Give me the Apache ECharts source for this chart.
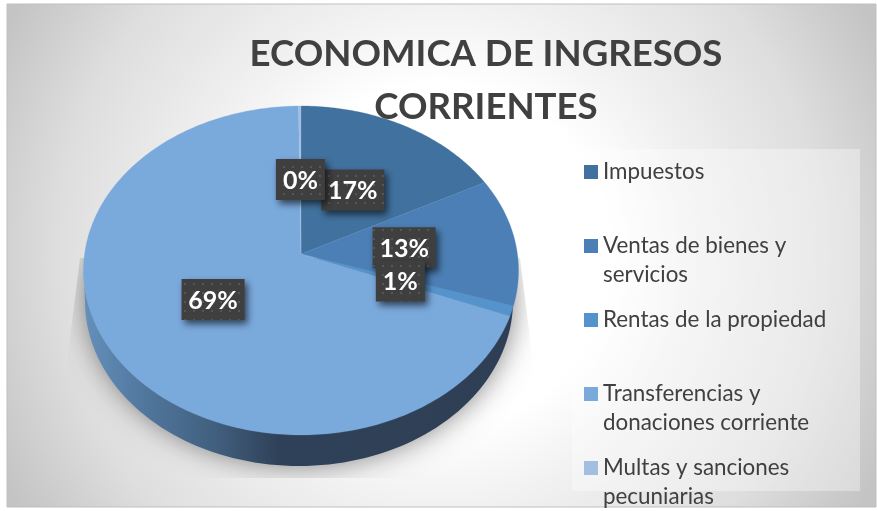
<!DOCTYPE html>
<html>
<head>
<meta charset="utf-8">
<style>
  html, body { margin: 0; padding: 0; background: #fff; }
  #chart { width: 877px; height: 511px; }
</style>
<script src="https://cdn.jsdelivr.net/npm/echarts@6/dist/echarts.min.js"></script>
</head>
<body>
<div id="chart"></div>
<script>
const titleText = 'ECONOMICA DE INGRESOS\nCORRIENTES';
const categories = [
  'Impuestos',
  'Ventas de bienes y\nservicios',
  'Rentas de la propiedad',
  'Transferencias y\ndonaciones corriente',
  'Multas y sanciones\npecuniarias'
];
const values = [17.4, 12.6, 1.0, 68.8, 0.2];
const colors = ['#41719e', '#4c7fb5', '#5593cc', '#7aa9dc', '#a2bfe2'];

const font = 'Lato, sans-serif';
const total = values.reduce((a, b) => a + b, 0);
const starts = values.map((_, i) => values.slice(0, i).reduce((a, b) => a + b, 0));

// projected disc: the centre of the circle sits above the centre of the ellipse
const disc = { cx: 301, cy: 254, rx: 216.4, ry: 162.8, k: 0.1003 };

function project(share, r) {
  const a = share / total * Math.PI * 2;
  const X = Math.sin(a) * r;
  const Y = Math.cos(a) * r;
  const w = 1 + disc.k * Y;
  return [disc.cx + disc.rx * X / w, disc.cy - disc.ry * Y / w];
}

function slicePoints(start, size) {
  const pts = [project(0, 0)];
  const n = Math.max(2, Math.ceil(size / total * 360));
  for (let i = 0; i <= n; i++) pts.push(project(start + size * i / n, 1));
  return pts;
}

function ellipsePoints(cx, cy, rx, ry, from, to) {
  const pts = [];
  for (let d = from; d <= to; d += 2) {
    const a = d * Math.PI / 180;
    pts.push([cx + rx * Math.cos(a), cy + ry * Math.sin(a)]);
  }
  return pts;
}

// dotted texture of the data label boxes
const tile = document.createElement('canvas');
tile.width = tile.height = 9;
const tileCtx = tile.getContext('2d');
tileCtx.fillStyle = '#3f3f3f';
tileCtx.fillRect(0, 0, 9, 9);
tileCtx.fillStyle = '#565656';
tileCtx.fillRect(4, 4, 2, 2);

function renderFloor() {
  return {
    type: 'polygon',
    clipPath: {
      type: 'polygon',
      shape: { points: [[80, 258], [520, 258], [532, 354], [532, 478], [68, 478], [68, 354]] }
    },
    // opaque but hidden under the pie, only its blur shows around the wall
    shape: { points: ellipsePoints(300, 299, 212, 164, 0, 360) },
    style: { fill: '#888', shadowBlur: 30, shadowColor: 'rgba(0,0,0,0.55)' }
  };
}

function renderWall() {
  const lower = ellipsePoints(299, 301, 214, 165, 0, 180);
  const upper = ellipsePoints(300.5, 270, 217, 164.5, 0, 180).reverse();
  return {
    type: 'polygon',
    shape: { points: lower.concat(upper) },
    style: {
      fill: {
        type: 'linear', x: 0, y: 0, x2: 1, y2: 0,
        colorStops: [
          { offset: 0, color: '#6490bb' },
          { offset: 0.15, color: '#50759b' },
          { offset: 0.3, color: '#41607f' },
          { offset: 0.45, color: '#2f4158' },
          { offset: 1, color: '#2e3f55' }
        ]
      }
    }
  };
}

function renderSlice(i) {
  return function (params, api) {
    return {
      type: 'polygon',
      shape: { points: slicePoints(starts[i], api.value(0)) },
      style: { fill: colors[i], stroke: colors[i], lineWidth: 0.3 }
    };
  };
}

function renderLabel(params, api) {
  const size = api.value(0);
  const text = Math.round(size / total * 100) + '%';
  const p = project(starts[params.dataIndex] + size / 2, 0.48);
  const w = text.length === 2 ? 49 : 63;
  const h = 41;
  return {
    type: 'group',
    children: [
      {
        type: 'rect',
        shape: { x: p[0] - w / 2, y: p[1] - h / 2, width: w, height: h },
        style: {
          fill: { image: tile, repeat: 'repeat' },
          shadowBlur: 7,
          shadowOffsetX: 3,
          shadowOffsetY: 4,
          shadowColor: 'rgba(0,0,0,0.6)'
        }
      },
      {
        type: 'text',
        style: {
          x: p[0], y: p[1] + 1, text: text,
          align: 'center', verticalAlign: 'middle',
          fill: '#fff', font: 'bold 25px ' + font
        }
      }
    ]
  };
}

const decor = (name, renderItem, z) => ({
  type: 'custom', name, coordinateSystem: 'none', data: [1], renderItem, silent: true, z
});

const sliceSeries = categories.map((name, i) => ({
  type: 'custom',
  name,
  coordinateSystem: 'none',
  data: [values[i]],
  renderItem: renderSlice(i),
  itemStyle: { color: colors[i] },
  silent: true,
  z: 3
}));

// one legend per entry; a blank first line keeps the swatch beside the first
// real line of a two-line entry, since the text block is centred on the swatch
const legendRowHeight = 74;
const legendLineHeight = 29;
const legends = categories.map((name, i) => {
  const twoLines = name.indexOf('\n') >= 0;
  const swatchMiddle = 172 + legendRowHeight * i;
  return {
    data: [name],
    orient: 'vertical',
    left: 584,
    top: swatchMiddle - (twoLines ? 3 : 1) * legendLineHeight / 2,
    padding: 0,
    itemWidth: 14,
    itemHeight: 14,
    icon: 'rect',
    selectedMode: false,
    formatter: n => (twoLines ? '\n' : '') + n,
    textStyle: {
      fontFamily: font,
      fontSize: 22.4,
      color: '#404040',
      lineHeight: legendLineHeight
    }
  };
});

const chart = echarts.init(document.getElementById('chart'), null, { renderer: 'canvas' });
chart.setOption({
  animation: false,
  title: {
    text: titleText,
    left: 481,
    top: 23,
    textAlign: 'center',
    textStyle: { fontFamily: font, fontWeight: 'bold', fontSize: 36.6, lineHeight: 53, color: '#404040' }
  },
  legend: legends,
  graphic: [
    {
      type: 'rect',
      z: -2,
      shape: { x: 7, y: 4, width: 869, height: 503 },
      style: {
        stroke: '#bfbfbf',
        lineWidth: 1,
        fill: {
          type: 'radial', x: 440, y: 255, r: 490, global: true,
          colorStops: [
            { offset: 0, color: '#ffffff' },
            { offset: 0.35, color: '#ffffff' },
            { offset: 0.5, color: '#f2f2f2' },
            { offset: 0.78, color: '#dedede' },
            { offset: 1, color: '#c4c4c4' }
          ]
        }
      }
    },
    {
      type: 'rect',
      z: -1,
      shape: { x: 572, y: 149, width: 288, height: 342 },
      style: { fill: 'rgba(255,255,255,0.35)' }
    }
  ],
  series: [
    decor('floor', renderFloor, 1),
    decor('wall', renderWall, 2),
    ...sliceSeries,
    {
      type: 'custom',
      name: 'labels',
      coordinateSystem: 'none',
      data: values.map(v => [v]),
      renderItem: renderLabel,
      silent: true,
      z: 4
    }
  ]
});
</script>
</body>
</html>
